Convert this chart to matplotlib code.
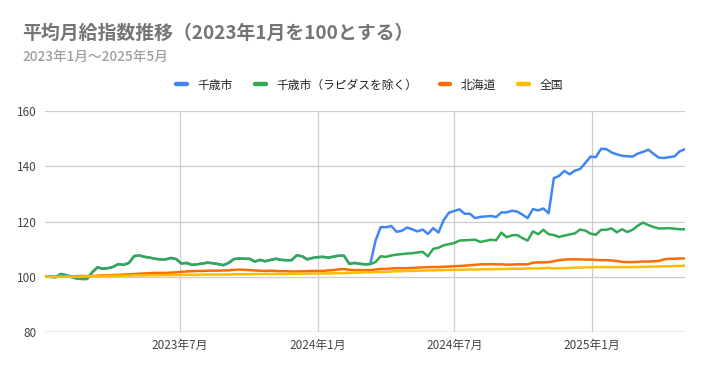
import matplotlib
matplotlib.use("Agg")
import matplotlib.pyplot as plt
import matplotlib.dates as mdates
import pandas as pd

plt.rcParams['font.family'] = ['Noto Sans CJK JP', 'DejaVu Sans']

dates = pd.date_range("2023-01-02", "2025-05-05", freq="7D")

green = [100.0, 100.0, 99.8, 101.0, 100.6, 100.0, 99.4, 99.2, 99.2, 101.6,
         103.4, 102.9, 103.1, 103.6, 104.6, 104.3, 105.0, 107.5, 107.7, 107.2,
         106.9, 106.5, 106.3, 106.3, 106.8, 106.4, 104.8, 105.0, 104.3, 104.5,
         104.8, 105.1, 104.9, 104.6, 104.2, 105.0, 106.4, 106.6, 106.5, 106.5,
         105.5, 106.1, 105.6, 106.1, 106.5, 106.1, 106.0, 106.0, 107.8, 107.4,
         106.3, 106.8, 107.1, 107.2, 106.9, 107.3, 107.6, 107.6, 104.7, 105.0,
         104.7, 104.5, 104.6, 105.3, 107.4, 107.2, 107.7, 108.0, 108.2, 108.4,
         108.5, 108.8, 109.0, 107.4, 110.1, 110.5, 111.4, 111.8, 112.2, 113.1,
         113.2, 113.3, 113.4, 112.6, 113.0, 113.4, 113.2, 116.0, 114.3, 115.0,
         115.1, 114.0, 113.1, 116.4, 115.4, 117.0, 115.4, 115.1, 114.4, 114.9,
         115.3, 115.7, 117.1, 116.7, 115.6, 115.2, 117.0, 117.0, 117.5, 116.1,
         117.2, 116.2, 117.0, 118.5, 119.6, 118.7, 118.0, 117.5, 117.5, 117.6,
         117.4, 117.2, 117.2]

blue = green[:63] + [
         113.0, 118.0, 117.9, 118.4, 116.3, 116.6, 117.8, 117.2, 116.4, 117.1,
         115.5, 117.6, 116.0, 120.5, 123.2, 123.8, 124.4, 122.8, 122.8, 121.2,
         121.7, 121.8, 122.0, 121.6, 123.3, 123.3, 123.9, 123.6, 122.5, 121.2,
         124.5, 124.0, 124.7, 123.0, 135.7, 136.5, 138.3, 137.1, 138.4, 139.0,
         141.2, 143.5, 143.3, 146.3, 146.2, 145.0, 144.3, 143.8, 143.6, 143.5,
         144.6, 145.2, 146.0, 144.5, 143.1, 143.0, 143.3, 143.6, 145.4, 146.2]

hokkaido = [100.0, 100.0, 100.1, 100.1, 100.0, 100.1, 100.2, 100.3, 100.2,
            100.3, 100.4, 100.5, 100.5, 100.6, 100.7, 100.8, 100.9,
            101.0, 101.1, 101.2, 101.3, 101.4, 101.4, 101.4, 101.5, 101.6,
            101.8, 101.9, 102.0, 102.1, 102.1, 102.2, 102.2, 102.2, 102.3, 102.3,
            102.5, 102.6, 102.5, 102.4, 102.3, 102.2, 102.1, 102.2, 102.1, 102.0,
            102.0, 101.9, 101.9, 102.0, 102.0, 102.1, 102.1, 102.1, 102.3, 102.4, 102.7, 102.8,
            102.5, 102.4, 102.4, 102.4, 102.4, 102.6, 102.8, 102.8, 103.0,
            103.1, 103.1, 103.1, 103.2, 103.3, 103.4, 103.5, 103.5, 103.5, 103.6, 103.7, 103.8,
            103.9, 104.0, 104.2, 104.3, 104.5, 104.5, 104.6, 104.5, 104.5, 104.4, 104.4, 104.5,
            104.5, 104.5, 105.1, 105.2, 105.2, 105.3, 105.6, 106.0, 106.2, 106.3,
            106.3, 106.3, 106.2, 106.2, 106.1, 106.0, 106.0, 105.9, 105.7, 105.4,
            105.3, 105.3, 105.4, 105.5, 105.5, 105.6, 105.7, 106.3, 106.5, 106.5, 106.6, 106.6]

national = [100.0, 99.9, 99.9, 100.0, 100.0, 100.0, 100.0, 100.1, 100.1, 100.2,
            100.2, 100.3, 100.3, 100.3, 100.4, 100.4,
            100.4, 100.5, 100.5, 100.5, 100.5, 100.5, 100.6, 100.6, 100.6, 100.6,
            100.7, 100.7, 100.7, 100.7, 100.8, 100.8, 100.8, 100.8, 100.8, 100.8,
            100.9, 100.9, 100.9, 100.9, 101.0, 101.0, 101.0, 101.0, 101.0, 101.0,
            101.0, 101.1, 101.1, 101.1, 101.1, 101.2, 101.2, 101.2, 101.2, 101.3,
            101.3, 101.3, 101.4, 101.5, 101.5, 101.6,
            101.6, 101.7, 101.7, 101.8, 101.9, 102.0, 102.0, 102.1, 102.1, 102.2,
            102.2, 102.3, 102.3, 102.4, 102.4, 102.5, 102.5, 102.5,
            102.6, 102.6, 102.6, 102.7, 102.7, 102.7, 102.8, 102.8, 102.8, 102.9,
            102.9, 102.9, 103.0, 103.0, 103.0, 103.1, 103.2, 103.0, 103.1, 103.1, 103.2,
            103.3, 103.3, 103.4, 103.4, 103.5, 103.5, 103.5, 103.5, 103.5, 103.5,
            103.5, 103.5, 103.5, 103.6, 103.6, 103.7, 103.7, 103.8, 103.8, 103.9,
            103.9, 104.0]

series_names = ["千歳市", "千歳市（ラピダスを除く）", "北海道", "全国"]
series_colors = ["#4285F4", "#34A853", "#FF6D01", "#FBBC04"]
y_ticks = [80, 100, 120, 140, 160]
x_tick_dates = ["2023-07-01", "2024-01-01", "2024-07-01", "2025-01-01"]
x_tick_labels = ["2023年7月", "2024年1月", "2024年7月", "2025年1月"]

fig = plt.figure(figsize=(7.04, 3.71), dpi=100)
ax = fig.add_axes([45 / 704, 1 - 332 / 371, 640 / 704, 221 / 371])

all_series = [blue, green, hokkaido, national]
for vals, name, col in zip(all_series, series_names, series_colors):
    ax.plot(dates, vals, color=col, lw=1.8, label=name, solid_joinstyle='round')

ax.set_ylim(80, 160)
ax.set_yticks(y_ticks)
ax.set_xlim(dates[0], dates[-1])
ax.set_xticks(pd.to_datetime(x_tick_dates))
ax.set_xticklabels(x_tick_labels)
ax.grid(True, color="#cccccc", lw=0.9)
ax.set_axisbelow(True)
for s in ax.spines.values():
    s.set_visible(False)
ax.axhline(80, color="#999999", lw=0.9, zorder=1)
ax.tick_params(axis='both', length=0, labelsize=8.5, colors="#444444")
ax.tick_params(axis='y', pad=6)
ax.tick_params(axis='x', pad=5)

fig.text(22 / 704, 1 - 33 / 371, "平均月給指数推移（2023年1月を100とする）",
         fontsize=13.6, fontweight='bold', color="#757575", va='center', ha='left')
fig.text(22 / 704, 1 - 57 / 371, "2023年1月～2025年5月",
         fontsize=9.8, fontweight='medium', color="#9e9e9e", va='center', ha='left')

leg = fig.legend(loc='center', bbox_to_anchor=(0.525, 1 - 85 / 371), ncol=4,
                 frameon=False, fontsize=8.5, handlelength=0.9, handletextpad=0.9,
                 columnspacing=1.9)
for line in leg.get_lines():
    line.set_linewidth(3.2)
    line.set_solid_capstyle('round')
for t in leg.get_texts():
    t.set_color("#222222")

fig.savefig("out.png", dpi=100)
